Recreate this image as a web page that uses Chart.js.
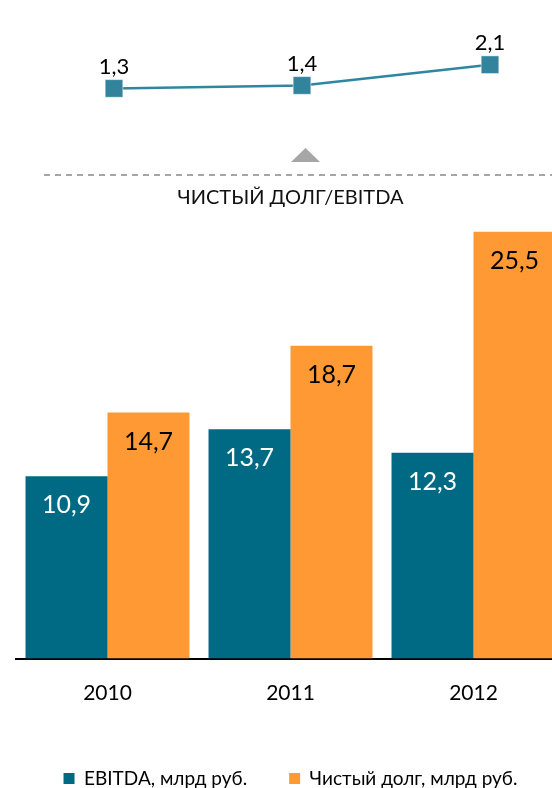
<!DOCTYPE html>
<html>
<head>
<meta charset="utf-8">
<script src="https://cdn.jsdelivr.net/npm/chart.js@4/dist/chart.umd.min.js"></script>
<style>
  html, body { margin: 0; padding: 0; background: #fff; overflow: hidden; }
  #wrap { position: relative; width: 552px; height: 788px; overflow: hidden; }
  #barChart { position: absolute; left: 0; top: 0; }
  #ratioChart { position: absolute; left: 0; top: 0; }
</style>
</head>
<body>
<div id="wrap">
  <canvas id="barChart" width="580" height="798"></canvas>
  <canvas id="ratioChart" width="552" height="140"></canvas>
</div>
<script>
const years = ['2010', '2011', '2012'];
const ebitda = [10.9, 13.7, 12.3];
const netDebt = [14.7, 18.7, 25.5];
const debtToEbitda = [1.3, 1.4, 2.1];

const FONT = 'Lato, "Open Sans", sans-serif';
const fmt = v => v.toFixed(1).replace('.', ',');

// value labels inside bars / above points
const valueLabels = {
    id: 'valueLabels',
    afterDatasetsDraw(chart, args, opts) {
        const ctx = chart.ctx;
        ctx.save();
        ctx.textAlign = 'center';
        ctx.textBaseline = 'middle';
        ctx.font = opts.size + 'px ' + FONT;
        chart.data.datasets.forEach((ds, i) => {
            chart.getDatasetMeta(i).data.forEach((el, j) => {
                ctx.fillStyle = ds.labelColor || '#000';
                ctx.fillText(fmt(ds.data[j]), el.x, el.y + opts.offset);
            });
        });
        ctx.restore();
    }
};

// dashed separator and grey marker between the two charts
const separator = {
    id: 'separator',
    beforeDraw(chart) {
        const ctx = chart.ctx;
        ctx.save();
        ctx.strokeStyle = '#a6a6a6';
        ctx.lineWidth = 2;
        ctx.setLineDash([6, 5]);
        ctx.beginPath();
        ctx.moveTo(44, 175);
        ctx.lineTo(552, 175);
        ctx.stroke();
        ctx.fillStyle = '#a6a6a6';
        ctx.beginPath();
        ctx.moveTo(291, 162);
        ctx.lineTo(305.5, 148);
        ctx.lineTo(320, 162);
        ctx.closePath();
        ctx.fill();
        ctx.restore();
    }
};

new Chart(document.getElementById('barChart'), {
    type: 'bar',
    data: {
        labels: years,
        datasets: [
            { label: 'EBITDA, млрд руб.', data: ebitda, backgroundColor: '#006a84', labelColor: '#ffffff' },
            { label: 'Чистый долг, млрд руб.', data: netDebt, backgroundColor: '#ff9933', labelColor: '#000000' }
        ]
    },
    options: {
        responsive: false,
        animation: false,
        devicePixelRatio: 1,
        layout: { padding: { left: 16, right: 15, top: 0, bottom: 0 } },
        datasets: { bar: { categoryPercentage: 0.896, barPercentage: 1, borderWidth: 0 } },
        scales: {
            x: {
                grid: { display: false, drawTicks: false },
                border: { display: true, color: '#000', width: 2 },
                ticks: { color: '#000', font: { family: FONT, size: 21 }, padding: 22 },
                afterFit: s => { s.height = 68.5; }
            },
            y: { display: false, min: 0, max: 26 }
        },
        plugins: {
            title: {
                display: true,
                text: 'ЧИСТЫЙ ДОЛГ/EBITDA',
                color: '#111',
                font: { family: FONT, size: 20, weight: 'normal' },
                padding: { top: 186, bottom: 13.5 }
            },
            legend: {
                position: 'bottom',
                labels: {
                    color: '#000',
                    font: { family: FONT, size: 19 },
                    boxWidth: 11,
                    boxHeight: 11,
                    padding: 42
                }
            },
            tooltip: { enabled: false },
            valueLabels: { size: 25, offset: 29 }
        }
    },
    plugins: [separator, valueLabels]
});

new Chart(document.getElementById('ratioChart'), {
    type: 'line',
    data: {
        labels: years,
        datasets: [{
            label: 'Чистый долг/EBITDA',
            data: debtToEbitda,
            borderColor: '#31869f',
            borderWidth: 2.5,
            pointStyle: 'rect',
            pointRadius: 12.5,
            pointBackgroundColor: '#31849b',
            pointBorderColor: '#ffffff',
            pointBorderWidth: 0.5,
            labelColor: '#000'
        }]
    },
    options: {
        responsive: false,
        animation: false,
        devicePixelRatio: 1,
        layout: { padding: { left: 114, right: 62, top: 38, bottom: 4 } },
        scales: {
            x: { display: false, offset: false },
            y: { display: false, min: 0, max: 3 }
        },
        plugins: {
            legend: { display: false },
            tooltip: { enabled: false },
            valueLabels: { size: 22, offset: -21.5 }
        }
    },
    plugins: [valueLabels]
});
</script>
</body>
</html>
